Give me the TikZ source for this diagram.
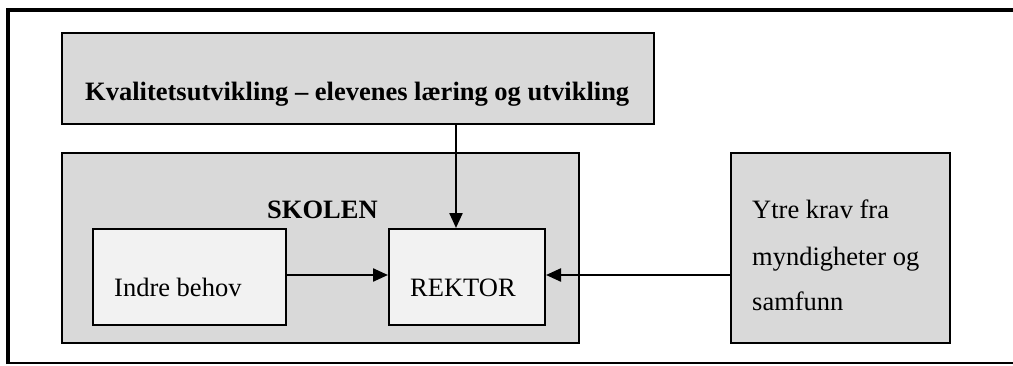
\documentclass[tikz,border=0pt]{standalone}
\usepackage{fontspec}
\setmainfont{Liberation Serif}
\usetikzlibrary{arrows.meta}
\definecolor{boxgray}{HTML}{D9D9D9}
\definecolor{innergray}{HTML}{F2F2F2}
\begin{document}
\begin{tikzpicture}[x=1pt,y=-1pt,
  outerbox/.style={draw=black,line width=2pt,fill=boxgray,inner sep=0pt},
  innerbox/.style={draw=black,line width=2pt,fill=innergray,inner sep=0pt},
  lbl/.style={inner sep=0pt,anchor=base west,font=\fontsize{26.5}{46}\selectfont},
  blbl/.style={lbl,font=\fontsize{26.5}{46}\selectfont\bfseries},
  arr/.style={line width=2.3pt,-{Triangle[length=15pt,width=13pt]}}]
\useasboundingbox (0,0) rectangle (1013,365);
% frame
\draw[line width=1.5pt] (8,363) -- (1013,363);
\draw[line width=4pt] (8,364) -- (8,10) -- (1013,10);
% boxes
\node[outerbox,minimum width=592pt,minimum height=91pt] (top) at (358,78.5) {};
\node[outerbox,minimum width=517pt,minimum height=190pt] (skolen) at (320.5,248) {};
\node[innerbox,minimum width=193pt,minimum height=96pt] (indre) at (189.5,277) {};
\node[innerbox,minimum width=156pt,minimum height=96pt] (rektor) at (467,277) {};
\node[outerbox,minimum width=219pt,minimum height=190pt] (ytre) at (840.5,248) {};
% texts
\node[blbl] (toptxt) at (85,100) {Kvalitetsutvikling – elevenes læring og utvikling};
\node[blbl] (skolentxt) at (267,218) {SKOLEN};
\node[lbl] (indretxt) at (114,296) {Indre behov};
\node[lbl] (rektortxt) at (410,296) {REKTOR};
\node[lbl] (ytre1) at (752,218) {Ytre krav fra};
\node[lbl] (ytre2) at (752,265) {myndigheter og};
\node[lbl] (ytre3) at (752,310) {samfunn};
% connectors
\draw[arr] (top.south -| 456,0) -- (rektor.north -| 456,0);
\draw[arr] (indre.east |- 0,275) -- (rektor.west |- 0,275);
\draw[arr] (ytre.west |- 0,275) -- (rektor.east |- 0,275);
\end{tikzpicture}
\end{document}
